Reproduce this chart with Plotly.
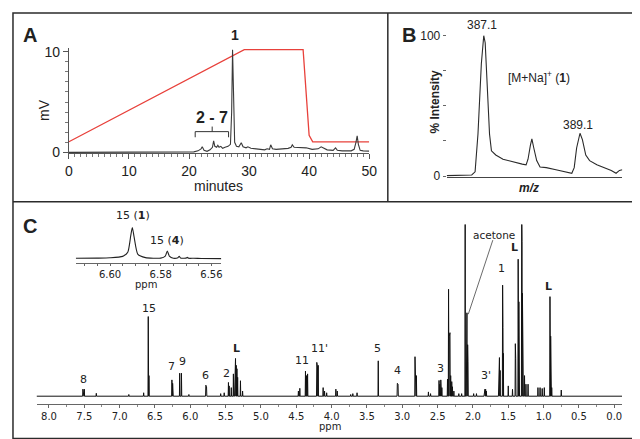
import plotly.graph_objects as go

W, H = 640, 439

# ---------------- Panel A: HPLC chromatogram ----------------
hplc_time = [0, 5, 10, 15, 20, 20.8, 21.5, 22.0, 22.2, 22.5, 23.0, 23.5, 23.9, 24.1, 24.3,
             24.6, 24.8, 25.0, 25.3, 25.6, 26.0, 26.5, 26.9, 27.1, 27.25, 27.4, 27.6, 27.9,
             28.3, 28.7, 29.0, 29.5, 29.8, 30.3, 31.0, 32.0, 32.6, 33.0, 33.4, 33.6, 33.9,
             34.5, 35.5, 36.5, 37.0, 37.2, 37.5, 38.5, 39.5, 40.5, 41.5, 42.0, 42.4, 43.0,
             44.0, 44.4, 44.7, 45.5, 47.0, 47.5, 47.8, 48.0, 48.2, 48.5, 49.0, 50.0]
hplc_mv = [0.0, 0.02, 0.0, 0.02, 0.03, 0.05, 0.15, 0.35, 0.55, 0.2, 0.1, 0.25, 0.5, 1.15, 0.6,
           0.5, 0.7, 0.5, 0.6, 0.4, 0.5, 0.6, 0.8, 4.0, 10.2, 5.0, 1.0, 0.6,
           0.55, 0.95, 0.55, 0.45, 0.55, 0.4, 0.35, 0.3, 0.25, 0.35, 0.3, 0.75, 0.35,
           0.3, 0.35, 0.4, 0.5, 0.75, 0.5, 0.45, 0.45, 0.3, 0.35, 0.55, 0.4, 0.25,
           0.2, 0.45, 0.2, 0.15, 0.15, 0.3, 1.0, 1.65, 0.8, 0.2, 0.15, 0.12]
grad_time = [0, 29.2, 39.0, 40.0, 40.6, 50.0]
grad_level = [1.05, 10.2, 10.2, 1.7, 1.05, 1.05]

# ---------------- Panel B: mass spectrum ----------------
ms_mz = [386.33, 386.5, 386.7, 386.85, 386.92, 386.98, 387.05, 387.1, 387.13, 387.18, 387.22,
         387.26, 387.35, 387.5, 387.7, 387.9, 387.98, 388.02, 388.07, 388.1, 388.14, 388.2,
         388.27, 388.4, 388.6, 388.8, 388.93, 388.98, 389.03, 389.1, 389.15, 389.22, 389.3,
         389.45, 389.6, 389.75, 389.85, 389.92, 389.98]
ms_int = [0.3, 0.5, 0.6, 0.8, 3, 30, 80, 100, 95, 60, 30,
          18, 15, 12, 10, 8.5, 8, 12, 22, 26.5, 20, 11,
          6.5, 6, 4.5, 3, 2, 6, 20, 30.5, 26, 15, 11,
          8, 6, 4, 2, 4, 4.5]

# ---------------- Panel C: 1H NMR (peak list: ppm, height) ----------------
nmr_ppm = [7.52, 7.51, 7.50, 7.33, 6.87, 6.66, 6.595, 6.585, 6.26, 6.25, 6.245, 6.15, 6.125,
           6.02, 5.78, 5.77, 5.57, 5.52, 5.46, 5.45, 5.42, 5.39, 5.37, 5.36, 5.35, 5.34, 5.33,
           5.29, 5.26, 4.47, 4.45, 4.37, 4.355, 4.34, 4.21, 4.20, 4.19, 4.12, 4.10, 4.07,
           3.94, 3.92, 3.73, 3.70, 3.64, 3.34, 3.07, 3.06, 2.82, 2.81, 2.80, 2.63, 2.60,
           2.48, 2.47, 2.455, 2.44, 2.36, 2.345, 2.335, 2.325, 2.315, 2.30, 2.29, 2.27,
           2.20, 2.16, 2.11, 2.09, 2.085, 2.075, 2.07, 1.99, 1.95, 1.84, 1.83, 1.82, 1.81,
           1.635, 1.625, 1.615, 1.58, 1.575, 1.57, 1.50, 1.44, 1.40, 1.395, 1.36, 1.355,
           1.35, 1.345, 1.31, 1.305, 1.30, 1.29, 1.27, 1.25, 1.22, 1.08, 1.05, 1.02, 0.99,
           0.91, 0.905, 0.90, 0.895, 0.885, 0.75]
nmr_int = [4.1, 3.5, 4.1, 1.7, 1.0, 2.0, 46.4, 12.0, 9.5, 7.5, 6.5, 13.4, 13.4,
           1.0, 6.4, 5.5, 1.5, 2.0, 8.0, 6.0, 5.0, 13.0, 20.0, 22.0, 18.0, 16.0, 11.0,
           9.0, 3.0, 3.0, 4.6, 14.6, 12.0, 13.0, 19.7, 17.0, 18.0, 5.0, 3.0, 2.0,
           4.1, 3.0, 1.0, 1.5, 2.0, 20.6, 7.5, 7.0, 23.0, 14.0, 12.0, 2.5, 1.5,
           9.2, 7.0, 9.5, 5.0, 10.0, 62.3, 35.0, 37.0, 12.0, 8.5, 5.5, 3.0,
           1.5, 1.5, 110.0, 25.0, 48.6, 30.0, 20.0, 1.5, 1.5, 3.5, 4.1, 4.0, 3.0,
           20.0, 22.5, 15.0, 64.7, 40.0, 25.0, 6.0, 4.0, 30.6, 22.0, 79.8, 50.5,
           55.0, 40.0, 110.0, 90.0, 60.0, 30.0, 12.0, 7.0, 7.0, 5.0, 5.0, 4.5, 5.0,
           58.0, 26.0, 35.0, 20.0, 5.0, 3.6]

# inset: expansion of H-15
inset_ppm = [6.6135, 6.605, 6.600, 6.595, 6.593, 6.5918, 6.5912, 6.5905, 6.589, 6.586, 6.580,
             6.5782, 6.5774, 6.5766, 6.575, 6.5732, 6.5727, 6.5722, 6.5700, 6.5695, 6.5690,
             6.5670, 6.5640, 6.5561]
inset_int = [0.3, 0.35, 0.45, 0.9, 2.2, 7.5, 10.0, 7.0, 1.5, 0.5, 0.35,
             1.0, 2.6, 1.0, 0.3, 0.5, 0.9, 0.4, 0.35, 0.6, 0.3,
             0.3, 0.25, 0.2]

ms_ticks = [0, 25, 50, 75, 100]
ms_ticktext = ["0", " ", " ", " ", "100"]
nmr_ticks = [8.0, 7.5, 7.0, 6.5, 6.0, 5.5, 5.0, 4.5, 4.0, 3.5, 3.0, 2.5, 2.0, 1.5, 1.0, 0.5, 0.0]
inset_ticks = [6.61, 6.605, 6.60, 6.595, 6.59, 6.585, 6.58, 6.575, 6.57, 6.565, 6.56]
inset_ticktext = [" ", " ", "6.60", " ", " ", " ", "6.58", " ", " ", " ", "6.56"]

# build NMR stick trace from peak list
HW = 0.004
nmr_x, nmr_y = [8.176], [0.0]
for p, h in sorted(zip(nmr_ppm, nmr_int), key=lambda t: -t[0]):
    nmr_x += [p + HW, p, p - HW]
    nmr_y += [0.0, h, 0.0]
nmr_x.append(-0.11)
nmr_y.append(0.0)


def px(x):
    return x / W


def py(y):
    return 1 - y / H


ARIAL = "Liberation Sans, Arial, sans-serif"
DEJ = "DejaVu Sans, sans-serif"
TXT = "#222222"

fig = go.Figure()
fig.add_trace(go.Scatter(x=grad_time, y=grad_level, mode="lines",
                         line=dict(color="#e8413b", width=1.3), xaxis="x", yaxis="y"))
fig.add_trace(go.Scatter(x=hplc_time, y=hplc_mv, mode="lines",
                         line=dict(color="#3a3a3a", width=1.1), xaxis="x", yaxis="y"))
fig.add_trace(go.Scatter(x=ms_mz, y=ms_int, mode="lines",
                         line=dict(color="#2a2a2a", width=1.1), xaxis="x2", yaxis="y2"))
fig.add_trace(go.Scatter(x=nmr_x, y=nmr_y, mode="lines",
                         line=dict(color="#111111", width=1), xaxis="x3", yaxis="y3"))
fig.add_trace(go.Scatter(x=inset_ppm, y=inset_int, mode="lines",
                         line=dict(color="#222222", width=1.1, shape="spline", smoothing=0.6),
                         xaxis="x4", yaxis="y4"))

common_hidden = dict(showgrid=False, zeroline=False, showticklabels=False, ticks="", showline=False)

fig.update_layout(
    width=W, height=H, margin=dict(l=0, r=0, t=0, b=0),
    paper_bgcolor="white", plot_bgcolor="rgba(0,0,0,0)", showlegend=False,
    xaxis=dict(domain=[px(58), px(364)], range=[0, 50], anchor="y", showgrid=False, zeroline=False,
               showline=True, linecolor="#555", linewidth=1, ticks="outside", ticklen=5,
               tickcolor="#555", tickvals=[0, 10, 20, 30, 40, 50], tickangle=0,
               minor=dict(dtick=1, ticks="outside", ticklen=3, tickcolor="#777"),
               tickfont=dict(family=ARIAL, size=14, color=TXT)),
    yaxis=dict(domain=[py(145), py(37)], range=[-0.1, 10.36], anchor="x", showgrid=False,
               zeroline=False, showline=True, linecolor="#555", linewidth=1, ticks="outside",
               ticklen=5, tickcolor="#555", tickvals=[0, 10],
               minor=dict(dtick=1, ticks="outside", ticklen=3, tickcolor="#777"),
               tickfont=dict(family=ARIAL, size=14, color=TXT)),
    xaxis2=dict(domain=[px(443), px(622)], range=[386.33, 389.98], anchor="y2", showgrid=False,
                zeroline=False, showline=True, linecolor="#444", linewidth=1,
                showticklabels=False, ticks=""),
    yaxis2=dict(domain=[py(169), py(22)], range=[-0.5, 101.6], anchor="x2", showgrid=False,
                zeroline=False, showline=False, ticks="outside", ticklen=3, tickcolor="#666",
                tickvals=ms_ticks, ticktext=ms_ticktext,
                tickfont=dict(family=ARIAL, size=12, color=TXT)),
    xaxis3=dict(domain=[px(25), px(621.7)], range=[8.176, -0.11], anchor="y3", showgrid=False,
                zeroline=False, showline=True, linecolor="#666", linewidth=1, ticks="outside",
                ticklen=3, tickcolor="#666", tickvals=nmr_ticks, tickformat=".1f", tickangle=0,
                minor=dict(dtick=0.25, ticks="outside", ticklen=2, tickcolor="#888"),
                tickfont=dict(family=DEJ, size=10, color=TXT)),
    yaxis3=dict(domain=[py(402), py(218)], range=[-4.5, 100], anchor="x3", **common_hidden),
    xaxis4=dict(domain=[px(65), px(213.3)], range=[6.6135, 6.5561], anchor="y4", showgrid=False,
                zeroline=False, showline=True, linecolor="#666", linewidth=1, ticks="outside",
                ticklen=2, tickcolor="#666", tickvals=inset_ticks, ticktext=inset_ticktext,
                tickangle=0, tickfont=dict(family=DEJ, size=10, color=TXT)),
    yaxis4=dict(domain=[py(257.5), py(219.5)], range=[-1.2, 10.45], anchor="x4", **common_hidden),
)

ann = []


def label(x, y, text, size=12, family=ARIAL, angle=0, color=TXT):
    ann.append(dict(x=px(x), y=py(y), xref="paper", yref="paper", text=text, showarrow=False,
                    xanchor="center", yanchor="middle", textangle=angle,
                    font=dict(family=family, size=size, color=color)))


# panel letters
label(18, 24, "<b>A</b>", 20)
label(405, 24, "<b>B</b>", 20)
label(18, 220, "<b>C</b>", 20)
# panel A
label(33, 100, "mV", 14, angle=-90)
label(210, 178, "minutes", 14)
label(227, 24, "<b>1</b>", 14)
label(204, 108, "<b>2 - 7</b>", 16)
# panel B
label(479, 13, "387.1", 12)
label(577, 116, "389.1", 12)
label(537, 67, "[M+Na]<sup>+</sup> (<b>1</b>)", 12)
label(431, 92, "<b>% Intensity</b>", 12, angle=-90)
label(527, 181, "<b><i>m/z</i></b>", 12)
# panel C inset
label(123, 209, "15 (<b>1</b>)", 11, DEJ)
label(158, 234, "15 (<b>4</b>)", 11, DEJ)
label(137, 279, "ppm", 10, DEJ)
# panel C peak labels
for x, y, t in [(72.7, 377, "8"), (140, 304, "15"), (162.7, 364, "7"), (173.3, 358, "9"),
                (197.7, 373, "6"), (218.3, 371, "2"), (296, 357, "11"), (313.3, 345, "11'"),
                (372.3, 345, "5"), (392.7, 368, "4"), (436.7, 366, "3"), (483.3, 373, "3'"),
                (499, 263, "1")]:
    label(x, y, t, 11, DEJ)
for x, y in [(228.3, 345), (511.7, 242), (546.7, 282)]:
    label(x, y, "<b>L</b>", 11, DEJ)
label(491, 229, "acetone", 10.5, DEJ)
label(324, 425, "ppm", 10, DEJ)

fig.update_layout(annotations=ann)

shapes = []
LC = "#2b2b2b"
shapes.append(dict(type="rect", xref="paper", yref="paper", x0=px(1), y0=py(437.5), x1=px(639),
                   y1=py(1), line=dict(color=LC, width=1.5)))
shapes.append(dict(type="line", xref="paper", yref="paper", x0=px(1), x1=px(639), y0=py(194.5),
                   y1=py(194.5), line=dict(color=LC, width=1.5)))
shapes.append(dict(type="line", xref="paper", yref="paper", x0=px(383), x1=px(383), y0=py(1),
                   y1=py(194.5), line=dict(color=LC, width=1.5)))
# bracket over peaks 2-7
shapes.append(dict(type="path", xref="paper", yref="paper",
                   path=f"M {px(186.7)},{py(128.5)} L {px(186.7)},{py(122.7)} L {px(220.7)},{py(122.7)} L {px(220.7)},{py(128.5)}",
                   line=dict(color="#333", width=1)))
shapes.append(dict(type="line", xref="paper", yref="paper", x0=px(204), x1=px(204), y0=py(122.7),
                   y1=py(117.5), line=dict(color="#333", width=1)))
# acetone pointer
shapes.append(dict(type="line", xref="paper", yref="paper", x0=px(490), x1=px(465), y0=py(234),
                   y1=py(310), line=dict(color="#444", width=0.8)))
fig.update_layout(shapes=shapes)

fig.write_html("out.html")
